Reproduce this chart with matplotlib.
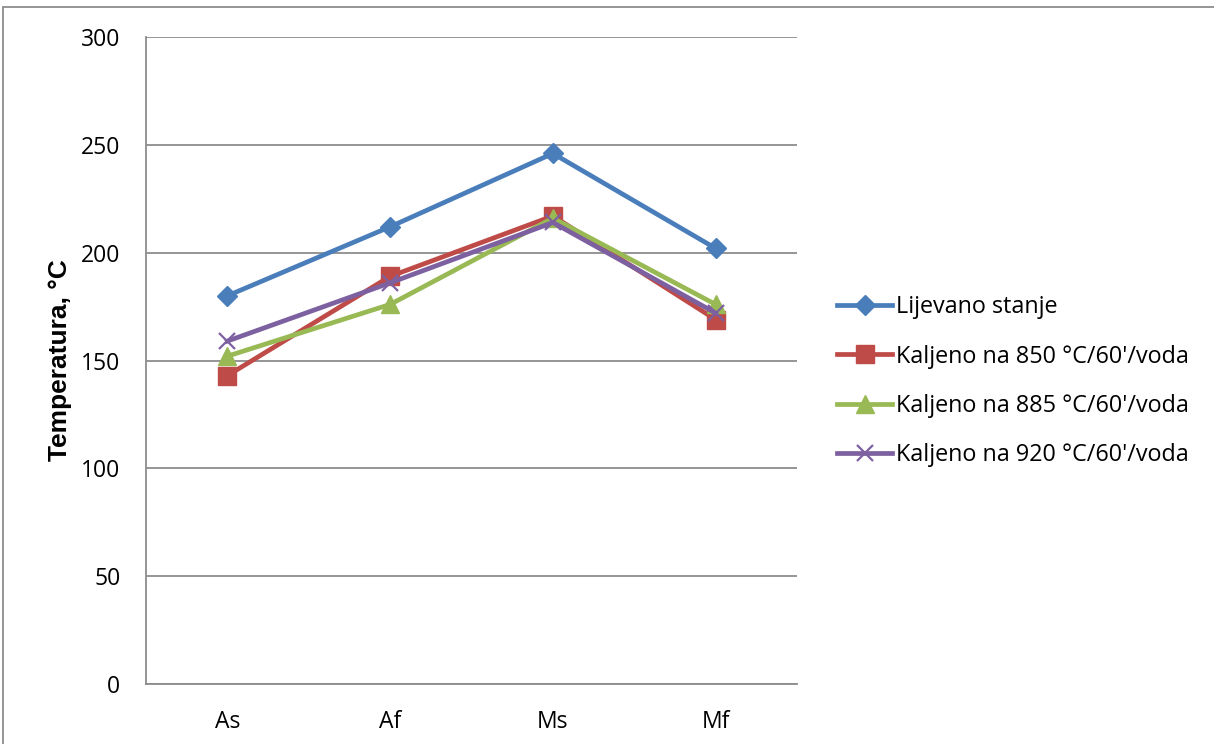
import matplotlib
matplotlib.use("Agg")
import matplotlib.pyplot as plt
from matplotlib.patches import Rectangle

# Transformation temperatures per condition
phases = ["As", "Af", "Ms", "Mf"]
lijevano = [180, 212, 246, 202]
kaljeno_850 = [143, 189, 217, 169]
kaljeno_885 = [152, 176, 216, 176]
kaljeno_920 = [159, 186, 214, 172]

series_labels = [
    "Lijevano stanje",
    "Kaljeno na 850 °C/60'/voda",
    "Kaljeno na 885 °C/60'/voda",
    "Kaljeno na 920 °C/60'/voda",
]
y_ticks = [0, 50, 100, 150, 200, 250, 300]

plt.rcParams["font.family"] = ["Open Sans", "DejaVu Sans"]

fig = plt.figure(figsize=(12.14, 7.44), dpi=100)
ax = fig.add_axes([146 / 1214, 1 - 684 / 744, 651 / 1214, 647 / 744])

# Outer chart frame
fig.patches.append(Rectangle((3 / 1214, -0.05), 1.1, 0.05 + (1 - 7 / 744),
                             transform=fig.transFigure, fill=False,
                             edgecolor="#8c8c8c", linewidth=1.3))

x = list(range(len(phases)))
styles = [
    (lijevano, "#4A7EBB", "D", 10, {}),
    (kaljeno_850, "#BE4B48", "s", 13, {}),
    (kaljeno_885, "#98B954", "^", 13, {}),
    (kaljeno_920, "#7D60A0", "x", 12, {"markeredgewidth": 1.6}),
]
for (vals, color, marker, ms, extra), label in zip(styles, series_labels):
    ax.plot(x, vals, color=color, linewidth=3.4, marker=marker,
            markersize=ms, markerfacecolor=color, markeredgecolor=color,
            label=label, **extra)

ax.set_xlim(-0.5, 3.5)
ax.set_ylim(0, 300)
ax.set_yticks(y_ticks)
ax.set_xticks(x)
ax.set_xticklabels(phases)
ax.tick_params(axis="both", length=0, labelsize=16.5, colors="black")
ax.tick_params(axis="y", pad=18.5)
ax.tick_params(axis="x", pad=19)

ax.grid(axis="y", color="#8c8c8c", linewidth=1.3)
ax.set_axisbelow(True)
for side in ["top", "right"]:
    ax.spines[side].set_visible(False)
for side in ["left", "bottom"]:
    ax.spines[side].set_color("#8c8c8c")
    ax.spines[side].set_linewidth(1.3)

ax.set_ylabel("Temperatura, °C", fontsize=19, fontweight="bold",
              family=["Liberation Sans", "DejaVu Sans"])
ax.yaxis.set_label_coords((72 - 146) / 651, 0.5)

leg = ax.legend(loc="center left", bbox_to_anchor=(1.0476, 0.468),
                frameon=False, fontsize=16.8, handlelength=2.35,
                handletextpad=0.175, labelspacing=1.08, borderaxespad=0)

fig.savefig("out.png", dpi=100)
